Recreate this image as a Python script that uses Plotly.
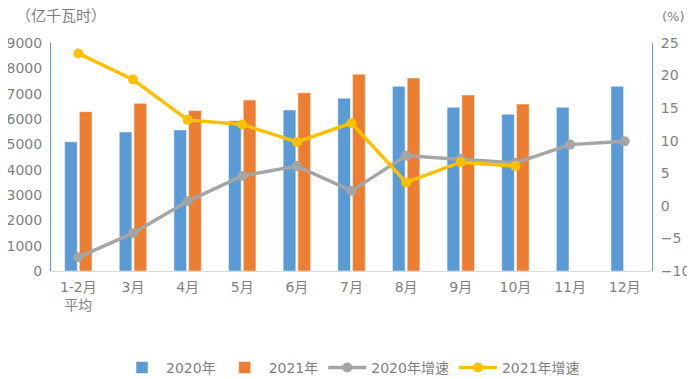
import plotly.graph_objects as go

categories = ["1-2月<br>平均", "3月", "4月", "5月", "6月", "7月", "8月", "9月", "10月", "11月", "12月"]
vals_2020 = [5100, 5490, 5570, 5930, 6360, 6820, 7290, 6460, 6190, 6460, 7290]
vals_2021 = [6290, 6620, 6340, 6750, 7040, 7770, 7620, 6950, 6590]
growth_2020 = [-7.9, -4.2, 0.7, 4.6, 6.1, 2.3, 7.7, 7.2, 6.6, 9.4, 9.9]
growth_2021 = [23.4, 19.4, 13.2, 12.5, 9.8, 12.7, 3.6, 6.7, 6.1]

BLUE = "#5b9bd5"
ORANGE = "#ed7d31"
GRAY = "#a5a5a5"
YELLOW = "#ffc000"
TXT = "#7f7f7f"
FONT = "DejaVu Sans, Noto Sans CJK SC"

fig = go.Figure()
fig.add_trace(go.Bar(x=categories, y=vals_2020, name="2020年",
                     marker=dict(color=BLUE, line=dict(color="white", width=0.5))))
fig.add_trace(go.Bar(x=categories[:len(vals_2021)], y=vals_2021, name="2021年",
                     marker=dict(color=ORANGE, line=dict(color="white", width=0.5))))
fig.add_trace(go.Scatter(x=categories, y=growth_2020, name="2020年增速", yaxis="y2",
                         mode="lines+markers", line=dict(color=GRAY, width=3.5),
                         marker=dict(color=GRAY, size=10)))
fig.add_trace(go.Scatter(x=categories[:len(growth_2021)], y=growth_2021, name="2021年增速", yaxis="y2",
                         mode="lines+markers", line=dict(color=YELLOW, width=3.5),
                         marker=dict(color=YELLOW, size=10)))

# page body has an 8px default margin, so the figure is sized 8px smaller
fig.update_layout(
    width=687, height=371,
    margin=dict(l=43, r=43, t=35, b=108, autoexpand=False),
    paper_bgcolor="white", plot_bgcolor="white",
    font=dict(family=FONT, size=14, color=TXT),
    barmode="group", bargap=0.46, bargroupgap=0.14,
    showlegend=True,
    legend=dict(orientation="h", x=0.5, xanchor="center", y=-0.425, yanchor="middle",
                font=dict(size=14, color=TXT), itemwidth=38, traceorder="normal"),
    xaxis=dict(showline=True, linecolor="#d9d9d9", linewidth=1, ticks="", automargin=False,
               range=[-0.5, len(categories) - 0.5],
               tickfont=dict(size=14, color=TXT), showgrid=False, ticklabelstandoff=3),
    yaxis=dict(range=[0, 9000], dtick=1000, showline=True, linecolor=BLUE, linewidth=1,
               showgrid=False, zeroline=False, tickfont=dict(size=14, color=TXT),
               ticks="", ticklabelstandoff=5, automargin=False),
    yaxis2=dict(range=[-10, 25], dtick=5, overlaying="y", side="right", showline=True,
                linecolor=BLUE, linewidth=1, showgrid=False, zeroline=False,
                tickfont=dict(size=14, color=TXT), ticks="", ticklabelstandoff=5, automargin=False),
    annotations=[
        dict(text="（亿千瓦时）", xref="paper", yref="paper", x=-0.062, y=1.118,
             xanchor="left", yanchor="middle", showarrow=False, font=dict(size=15, color=TXT)),
        dict(text="(%)", xref="paper", yref="paper", x=1.013, y=1.115,
             xanchor="left", yanchor="middle", showarrow=False, font=dict(size=13, color=TXT)),
    ],
)

fig.write_html("out.html")
